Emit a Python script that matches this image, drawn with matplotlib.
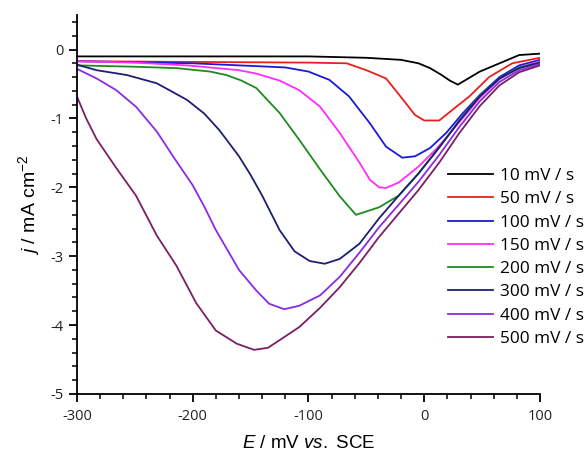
import matplotlib
matplotlib.use("Agg")
import matplotlib.pyplot as plt
from matplotlib.ticker import MultipleLocator

plt.rcParams["axes.unicode_minus"] = False
plt.rcParams["mathtext.fontset"] = "custom"
plt.rcParams["mathtext.rm"] = "Liberation Sans"
plt.rcParams["mathtext.it"] = "Liberation Sans:italic"

# scan rates and colours
labels = ["10 mV / s", "50 mV / s", "100 mV / s", "150 mV / s",
          "200 mV / s", "300 mV / s", "400 mV / s", "500 mV / s"]
colors = ["#000000", "#e8201c", "#1a1ad6", "#ff2cff",
          "#1e8a1e", "#1e1e72", "#8a2be2", "#7a1f62"]

# E (mV vs SCE) and j (mA cm-2)
E_10 = [-300, -200, -100, -50, -20, -5, 5, 15, 22, 29, 35, 48, 65, 82, 100]
j_10 = [-0.10, -0.10, -0.10, -0.12, -0.15, -0.20, -0.27, -0.37, -0.45, -0.51, -0.45, -0.32, -0.20, -0.08, -0.06]

E_50 = [-300, -200, -100, -67, -50, -33, -22, -15, -8, 0, 13, 24, 39, 56, 76, 100]
j_50 = [-0.17, -0.18, -0.19, -0.20, -0.30, -0.42, -0.65, -0.80, -0.95, -1.03, -1.03, -0.88, -0.68, -0.40, -0.20, -0.12]

E_100 = [-300, -200, -160, -120, -100, -82, -65, -47, -33, -19, -8, 5, 19, 33, 48, 65, 82, 100]
j_100 = [-0.17, -0.20, -0.23, -0.26, -0.32, -0.44, -0.68, -1.07, -1.41, -1.57, -1.55, -1.43, -1.21, -0.93, -0.66, -0.40, -0.23, -0.15]

E_150 = [-300, -250, -205, -160, -145, -125, -108, -90, -73, -56, -47, -39, -33, -22, -5, 10, 19, 33, 48, 65, 82, 100]
j_150 = [-0.17, -0.19, -0.23, -0.30, -0.35, -0.45, -0.59, -0.83, -1.21, -1.64, -1.89, -2.00, -2.01, -1.93, -1.70, -1.45, -1.28, -1.00, -0.70, -0.43, -0.26, -0.17]

E_200 = [-300, -250, -214, -185, -171, -158, -145, -125, -108, -90, -73, -59, -39, -22, -5, 13, 30, 48, 65, 82, 100]
j_200 = [-0.23, -0.25, -0.27, -0.32, -0.37, -0.45, -0.56, -0.92, -1.31, -1.74, -2.13, -2.40, -2.29, -2.12, -1.80, -1.42, -1.04, -0.67, -0.42, -0.26, -0.19]

E_300 = [-300, -283, -257, -231, -205, -190, -177, -160, -150, -140, -125, -112, -99, -86, -73, -56, -39, -22, -5, 13, 30, 48, 65, 82, 100]
j_300 = [-0.22, -0.30, -0.37, -0.49, -0.73, -0.93, -1.17, -1.55, -1.82, -2.12, -2.62, -2.93, -3.07, -3.11, -3.04, -2.82, -2.45, -2.12, -1.80, -1.42, -1.04, -0.68, -0.42, -0.27, -0.19]

E_400 = [-300, -283, -266, -249, -231, -217, -200, -190, -180, -160, -145, -134, -121, -108, -90, -73, -56, -39, -22, -5, 13, 30, 48, 65, 82, 100]
j_400 = [-0.28, -0.42, -0.59, -0.83, -1.19, -1.55, -1.97, -2.28, -2.62, -3.20, -3.50, -3.69, -3.77, -3.72, -3.57, -3.30, -2.95, -2.58, -2.25, -1.92, -1.53, -1.13, -0.75, -0.47, -0.30, -0.21]

E_500 = [-300, -292, -283, -266, -249, -231, -214, -197, -180, -162, -147, -135, -125, -108, -90, -73, -56, -39, -22, -5, 13, 30, 48, 65, 82, 100]
j_500 = [-0.68, -1.00, -1.30, -1.72, -2.12, -2.70, -3.14, -3.68, -4.08, -4.27, -4.36, -4.33, -4.22, -4.03, -3.75, -3.45, -3.10, -2.72, -2.38, -2.04, -1.64, -1.22, -0.82, -0.52, -0.33, -0.23]

E_all = [E_10, E_50, E_100, E_150, E_200, E_300, E_400, E_500]
j_all = [j_10, j_50, j_100, j_150, j_200, j_300, j_400, j_500]

fig = plt.figure(figsize=(5.87, 4.57), dpi=100)
ax = fig.add_axes([0.131, 0.138, 0.789, 0.829])

for E, j, c, lab in zip(E_all, j_all, colors, labels):
    ax.plot(E, j, color=c, lw=1.3, label=lab)

ax.set_xlim(-300, 100)
ax.set_ylim(-5, 0.5)
ax.xaxis.set_major_locator(MultipleLocator(100))
ax.xaxis.set_minor_locator(MultipleLocator(20))
ax.yaxis.set_major_locator(MultipleLocator(1))
ax.yaxis.set_minor_locator(MultipleLocator(0.2))
ax.spines["top"].set_visible(False)
ax.spines["right"].set_visible(False)
for s in ["left", "bottom"]:
    ax.spines[s].set_linewidth(1.3)
ax.tick_params(which="major", direction="out", length=6, width=1.3)
ax.tick_params(which="minor", direction="out", length=3.5, width=1.1)
for t in ax.get_xticklabels() + ax.get_yticklabels():
    t.set_fontfamily("Open Sans")
    t.set_fontsize(10.5)
    t.set_color("#222222")
ax.tick_params(axis="x", pad=5)

ax.set_xlabel(r"$\it{E}$ / mV $\it{vs.}$ SCE", fontsize=13.5, fontfamily="Liberation Sans", labelpad=8)
ax.set_ylabel(r"$\it{j}$ / mA cm$^{-2}$", fontsize=14, fontfamily="Liberation Sans", labelpad=6)

leg = ax.legend(loc="upper left", bbox_to_anchor=(448 / 587, 1 - 168 / 457),
                bbox_transform=fig.transFigure, frameon=False,
                prop={"family": "Open Sans", "size": 12.4}, handlelength=2.6,
                handletextpad=0.4, labelspacing=0.42, borderaxespad=0, borderpad=0)

fig.savefig("out.png", dpi=100)
